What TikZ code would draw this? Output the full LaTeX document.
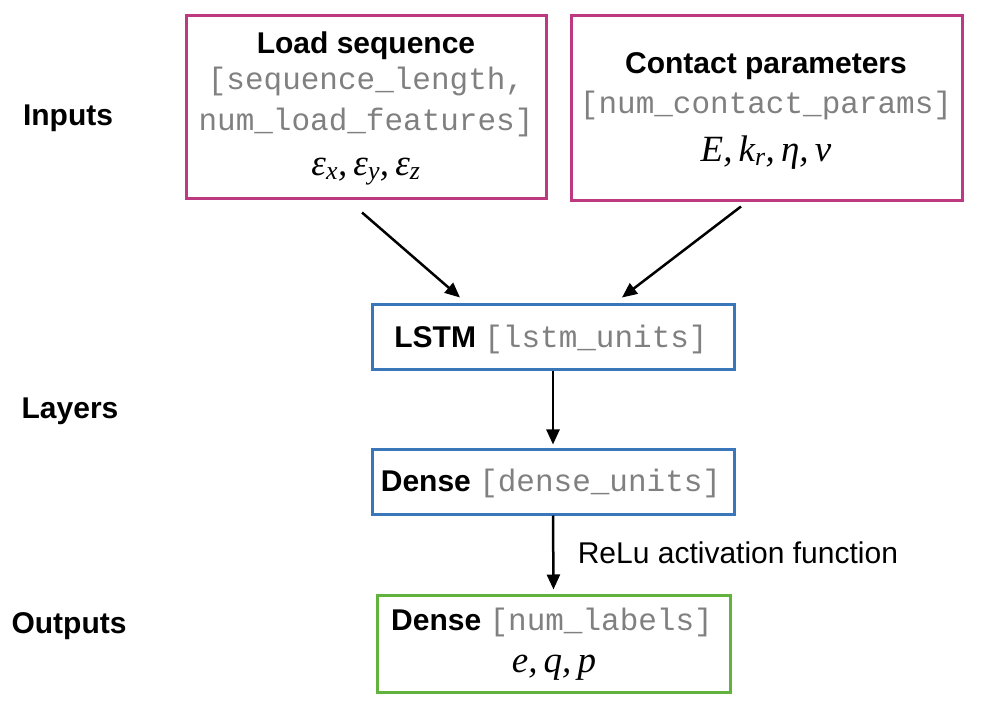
\documentclass[tikz,border=0pt]{standalone}
\usepackage{fontspec}
\setmainfont{Liberation Sans}
\newfontfamily\codefont{Liberation Mono}
\newfontfamily\symfont{Liberation Serif}
\usetikzlibrary{arrows.meta}

\definecolor{inputcol}{RGB}{190,58,128}
\definecolor{layercol}{RGB}{58,118,186}
\definecolor{outputcol}{RGB}{98,178,62}
\definecolor{codecol}{RGB}{128,128,128}

\newcommand{\code}[1]{{\codefont\mdseries\fontsize{31}{36}\selectfont\color{codecol}#1}}
\newcommand{\sym}[1]{{\symfont\itshape\fontsize{37}{42}\selectfont #1}}
\newcommand{\lowsub}[1]{\textsubscript{#1}}

\tikzset{
  title/.style={font=\fontsize{30}{36}\selectfont\bfseries},
  plain/.style={font=\fontsize{30}{36}\selectfont}
}

\begin{document}
\begin{tikzpicture}[x=1pt,y=-1pt]

        \useasboundingbox (0,0) rectangle (983,708);

        \begin{scope}[every node/.style={draw, line width=3pt, inner sep=0pt}]
          \node[draw=inputcol,  minimum width=360pt, minimum height=183pt] (load)    at (366,107.5) {};
          \node[draw=inputcol,  minimum width=391pt, minimum height=185pt] (contact) at (766.5,108.5) {};
          \node[draw=layercol,  minimum width=362pt, minimum height=65pt]  (lstm)    at (553,337.5) {};
          \node[draw=layercol,  minimum width=362pt, minimum height=64pt]  (dense)   at (553,482) {};
          \node[draw=outputcol, minimum width=353pt, minimum height=97pt]  (out)     at (553.5,643.5) {};
        \end{scope}

        \begin{scope}[every node/.style={anchor=base, inner sep=0pt}]
          \node[title] (inputs)  at (68,126) {Inputs};
          \node[title] (layers)  at (70,419) {Layers};
          \node[title] (outputs) at (69,633) {Outputs};

          \node[title] (loadtitle) at (366,54)  {Load sequence};
          \node        (loadcode1) at (366,90)  {\code{[sequence\_length,}};
          \node        (loadcode2) at (366,131) {\code{num\_load\_features]}};
          \node        (loadsym)   at (366,176) {\sym{ε\lowsub{x},\,ε\lowsub{y},\,ε\lowsub{z}}};

          \node[title] (contacttitle) at (766,74)  {Contact parameters};
          \node        (contactcode)  at (766,114) {\code{[num\_contact\_params]}};
          \node        (contactsym)   at (766,162) {\sym{E,\,k\lowsub{r},\,η,\,ν}};

          \node[title] (lstmtext)  at (551,348) {LSTM \code{[lstm\_units]}};
          \node[title] (densetext) at (551,492) {Dense \code{[dense\_units]}};
          \node[title] (outtext)   at (552,630) {Dense \code{[num\_labels]}};
          \node        (outsym)    at (554,672) {\sym{e,\,q,\,p}};
        \end{scope}

        \begin{scope}[every edge/.style={draw, line width=2.5pt, -{Triangle[length=15pt,width=13pt]}}]
          \path ([shift={(-4,12)}]load.south)     edge ([shift={(-93,-6)}]lstm.north);
          \path ([shift={(-25.5,4)}]contact.south) edge ([shift={(69,-6)}]lstm.north);
          \path (lstm.south)  edge ([yshift=4pt]dense.north);
          \path (dense.south) edge node[plain, anchor=west, xshift=20pt] {ReLu activation function} ([yshift=4pt]out.north);
        \end{scope}

      \end{tikzpicture}
\end{document}
